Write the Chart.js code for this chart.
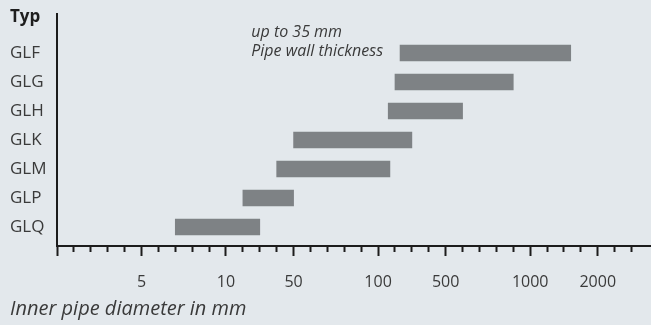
<!DOCTYPE html>
<html>
<head>
<meta charset="utf-8">
<script src="https://cdn.jsdelivr.net/npm/chart.js@4.4.1/dist/chart.umd.min.js"></script>
<style>
  html, body { margin: 0; padding: 0; background: #e3e8ec; }
  #wrap { width: 651px; height: 325px; position: relative; }
</style>
</head>
<body>
<div id="wrap"><canvas id="chart"></canvas></div>
<script>
// Data
const categories = ['GLF', 'GLG', 'GLH', 'GLK', 'GLM', 'GLP', 'GLQ']
const minDiameter = [230, 200, 160, 50, 40, 20, 7]      // mm
const maxDiameter = [1600, 900, 600, 300, 170, 50, 30]  // mm
const tickLabels = ['5', '10', '50', '100', '500', '1000', '2000']
const tickValues = [5, 10, 50, 100, 500, 1000, 2000]
const tickSlots = [5, 10, 14, 19, 23, 28, 32]  // which evenly spaced tick carries each label
const slotCount = 35

const INK = '#1c1c1c'
const TEXT = '#3a3a3a'
const FONT = 'Open Sans'

// the axis is not log, it is a stretched scale: mm -> tick slot, piecewise linear
function toSlot(mm) {
  const vals = [0, ...tickValues]
  const slots = [0, ...tickSlots]
  for (let i = 1; i < vals.length; i++) {
    if (mm <= vals[i]) {
      return slots[i - 1] + (mm - vals[i - 1]) / (vals[i] - vals[i - 1]) * (slots[i] - slots[i - 1])
    }
  }
  const n = vals.length - 1
  return slots[n] + (mm - vals[n]) / (vals[n] - vals[n - 1]) * (slots[n] - slots[n - 1])
}

const HEADER = -1.25

// Wall thickness note next to the GLF bar
const notePlugin = {
  id: 'note',
  afterDatasetsDraw(chart) {
    const { ctx, scales } = chart
    const barStart = scales.x.getPixelForValue(toSlot(minDiameter[0]))
    const rowY = scales.y.getPixelForValue(0)
    ctx.save()
    ctx.font = `italic 16px ${FONT}`
    ctx.fillStyle = TEXT
    ctx.textBaseline = 'alphabetic'
    const w = ctx.measureText('Pipe wall thickness').width
    const left = barStart - 17 - w
    ctx.fillText('up to 35 mm', left, rowY - 16)
    ctx.fillText('Pipe wall thickness', left, rowY + 3)
    ctx.restore()
  }
}

const ctx = document.getElementById('chart').getContext('2d')
new Chart(ctx, {
  type: 'bar',
  data: {
    datasets: [
      {
        data: categories.map((c, i) => ({ x: [toSlot(minDiameter[i]), toSlot(maxDiameter[i])], y: i })),
        backgroundColor: '#7e8285',
        borderWidth: 0,
        borderSkipped: false,
        barThickness: 16
      }
    ]
  },
  options: {
    indexAxis: 'y',
    responsive: true,
    maintainAspectRatio: false,
    animation: false,
    layout: { padding: { left: 10, right: 0, top: 14, bottom: 0 } },
    plugins: {
      legend: { display: false },
      tooltip: { enabled: false },
      title: {
        display: true,
        position: 'bottom',
        align: 'start',
        text: 'Inner pipe diameter in mm',
        color: TEXT,
        font: { family: FONT, size: 20, style: 'italic', weight: 'normal' },
        padding: { top: 0, bottom: 4 }
      }
    },
    scales: {
      x: {
        type: 'linear',
        min: 0,
        max: 35.15,
        afterBuildTicks: (scale) => {
          scale.ticks = Array.from({ length: slotCount }, (_, i) => ({ value: i }))
        },
        afterFit: (scale) => { scale.height = 51 },
        border: { display: true, color: INK, width: 2 },
        grid: {
          drawOnChartArea: false,
          drawTicks: true,
          tickLength: 10,
          tickWidth: 2,
          tickColor: INK,
          tickBorderDash: (c) => {
            const v = c.tick ? c.tick.value : -1
            return (v === 0 || tickSlots.includes(v)) ? [] : [5, 30]
          }
        },
        ticks: {
          autoSkip: false,
          maxRotation: 0,
          padding: 17,
          color: TEXT,
          font: { family: FONT, size: 16 },
          callback: (v) => {
            const k = tickSlots.indexOf(v)
            return k >= 0 ? tickLabels[k] : ''
          }
        }
      },
      y: {
        type: 'linear',
        reverse: true,
        offset: false,
        min: -1.345,
        max: 6.655,
        afterBuildTicks: (scale) => {
          scale.ticks = [{ value: HEADER }, ...categories.map((c, i) => ({ value: i }))]
        },
        afterFit: (scale) => { scale.width = 47 },
        border: { display: true, color: INK, width: 2 },
        grid: { drawOnChartArea: false, drawTicks: false, offset: false },
        ticks: {
          autoSkip: false,
          crossAlign: 'far',
          padding: 0,
          color: (c) => c.index === 0 ? '#1e1e1e' : TEXT,
          font: (c) => c.index === 0
            ? { family: FONT, size: 17, weight: 'bold' }
            : { family: FONT, size: 17 },
          callback: (v, i) => i === 0 ? 'Typ' : categories[v]
        }
      }
    }
  },
  plugins: [notePlugin]
})
</script>
</body>
</html>
